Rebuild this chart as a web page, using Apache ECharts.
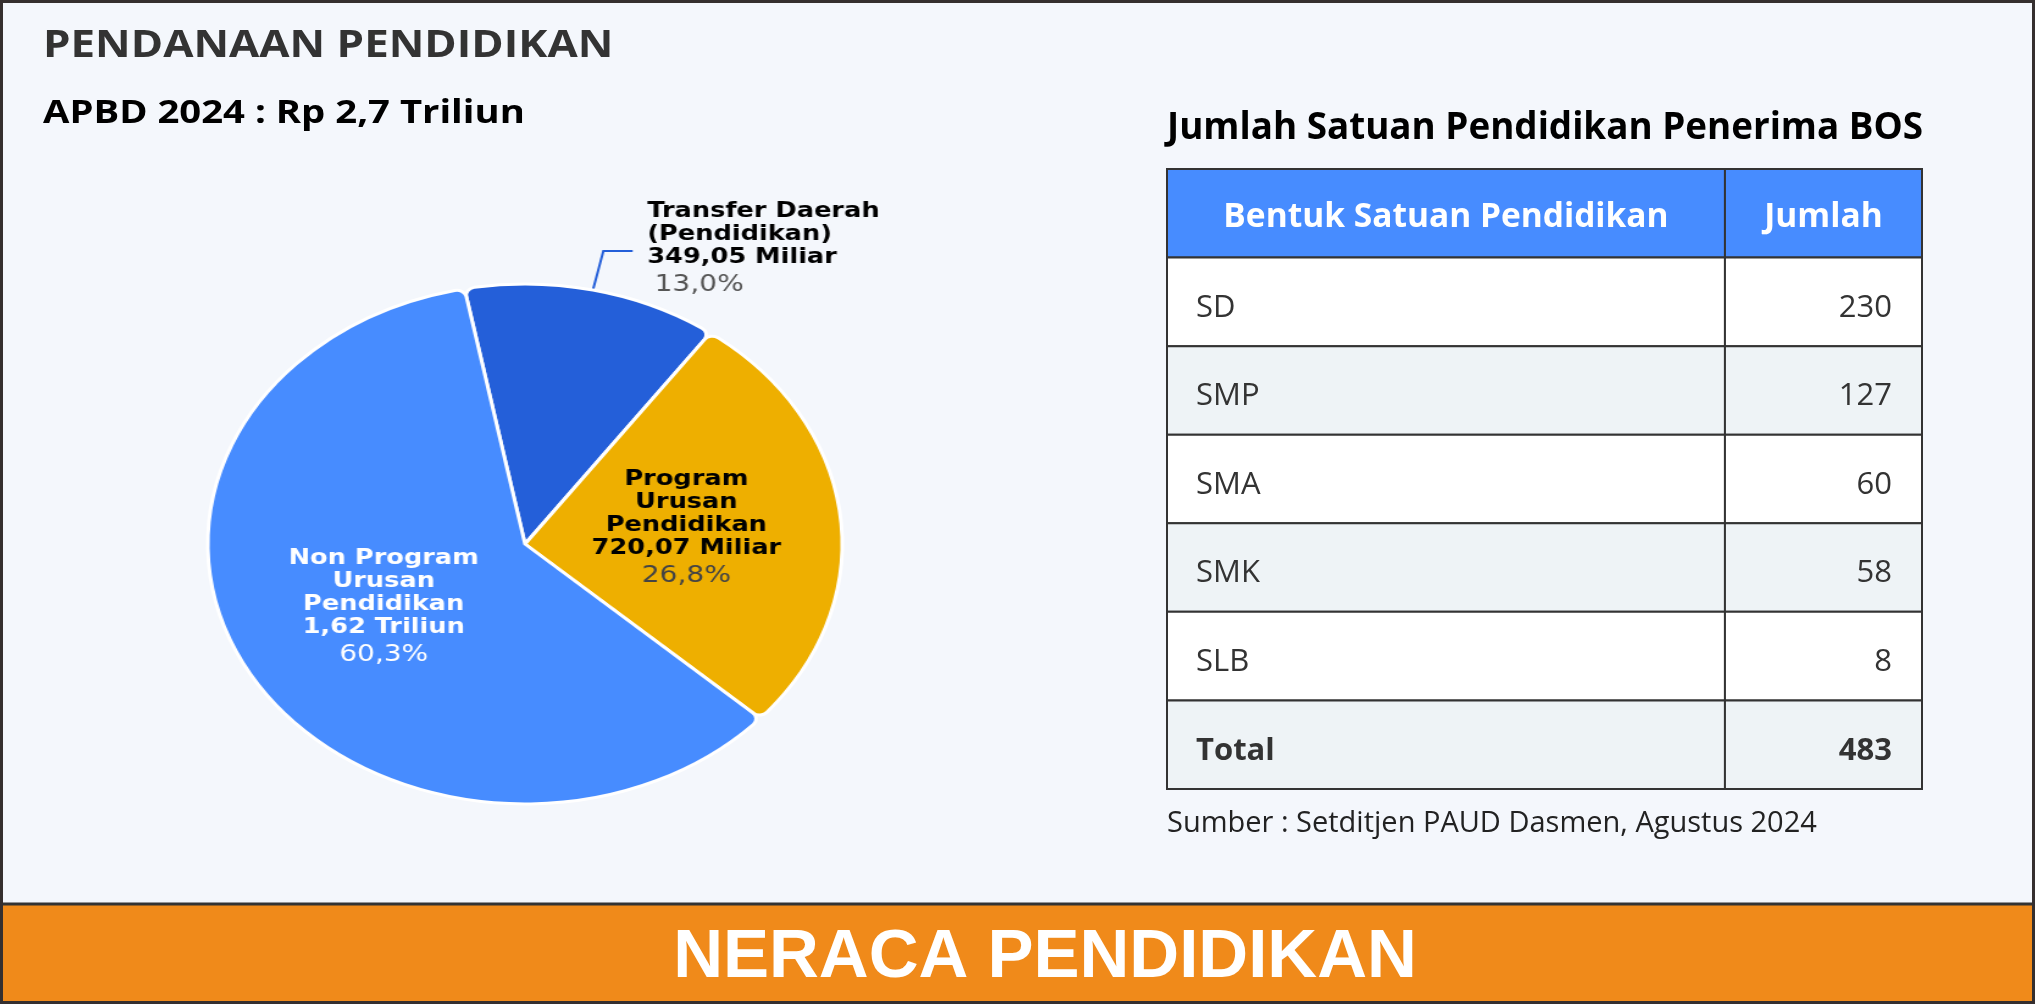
<!DOCTYPE html>
<html><head><meta charset="utf-8">
<script src="https://cdn.jsdelivr.net/npm/echarts@6/dist/echarts.min.js"></script>
<style>
html,body{margin:0;padding:0;background:#f4f7fc;overflow:hidden}
#main{position:absolute;left:0;top:0;width:2035px;height:1004px}
#pie{position:absolute;left:200px;top:150px;width:650px;height:700px;transform-origin:325px 394px;transform:scaleX(1.22)}
</style></head><body>
<div id="main"></div><div id="pie"></div>
<script>
// ---- data ----
const titleText = 'PENDANAAN PENDIDIKAN';
const subtitleText = 'APBD 2024 : Rp 2,7 Triliun';
const pieNames = ['Transfer Daerah (Pendidikan)', 'Program Urusan Pendidikan', 'Non Program Urusan Pendidikan'];
const pieLabelLines = [['Transfer Daerah', '(Pendidikan)'], ['Program', 'Urusan', 'Pendidikan'], ['Non Program', 'Urusan', 'Pendidikan']];
const pieValues = [349.05, 720.07, 1620];
const pieValueLabels = ['349,05 Miliar', '720,07 Miliar', '1,62 Triliun'];
const piePercentLabels = ['13,0%', '26,8%', '60,3%'];
const tableTitle = 'Jumlah Satuan Pendidikan Penerima BOS';
const tableHeader = ['Bentuk Satuan Pendidikan', 'Jumlah'];
const schoolTypes = ['SD', 'SMP', 'SMA', 'SMK', 'SLB'];
const schoolCounts = [230, 127, 60, 58, 8];
const totalLabel = 'Total';
const totalCount = 483;
const sourceText = 'Sumber : Setditjen PAUD Dasmen, Agustus 2024';
const bannerText = 'NERACA PENDIDIKAN';

// ---- styles ----
const pieColors = ['#245fd9', '#eeaf00', '#478cff'];
const COL1 = 0.739;
const rowKeys = ['header'].concat(schoolTypes, [totalLabel]);
const rowLabels = [tableHeader[0]].concat(schoolTypes, [totalLabel]);
const rowValues = [tableHeader[1]].concat(schoolCounts.map(String), [String(totalCount)]);

function renderItem(params, api) {
  const i = api.value(1);
  const c = api.coord([0, i]);
  const h = api.size([0, 1])[1];
  const w = api.size([1, 0])[0];
  const x0 = c[0], yTop = c[1] - h / 2, xs = x0 + w * COL1, x1 = x0 + w;
  const isHeader = i === 0, isTotal = i === rowKeys.length - 1;
  const fill = isHeader ? '#478cff' : (i % 2 === 1 ? '#ffffff' : '#eef3f6');
  const border = {stroke: '#333', lineWidth: 2};
  const children = [
    {type: 'rect', shape: {x: x0, y: yTop, width: xs - x0, height: h}, style: Object.assign({fill: fill}, border)},
    {type: 'rect', shape: {x: xs, y: yTop, width: x1 - xs, height: h}, style: Object.assign({fill: fill}, border)}
  ];
  if (isHeader) {
    children.push({type: 'text', style: {text: rowLabels[i], x: (x0 + xs) / 2, y: c[1] + 4, fill: '#ffffff', fontFamily: 'Open Sans', fontWeight: 'bold', fontSize: 33.5, align: 'center', verticalAlign: 'middle'}});
    children.push({type: 'text', style: {text: rowValues[i], x: (xs + x1) / 2, y: c[1] + 4, fill: '#ffffff', fontFamily: 'Open Sans', fontWeight: 'bold', fontSize: 33.5, align: 'center', verticalAlign: 'middle'}});
  } else {
    const fw = isTotal ? 'bold' : 'normal';
    children.push({type: 'text', style: {text: rowLabels[i], x: x0 + 29, y: c[1] + 6, fill: '#333', fontFamily: 'Open Sans', fontWeight: fw, fontSize: 31, align: 'left', verticalAlign: 'middle'}});
    children.push({type: 'text', style: {text: rowValues[i], x: x1 - 30, y: c[1] + 6, fill: '#333', fontFamily: 'Open Sans', fontWeight: fw, fontSize: 31, align: 'right', verticalAlign: 'middle'}});
  }
  return {type: 'group', children: children};
}

const main = echarts.init(document.getElementById('main'), null, {renderer: 'canvas'});
main.setOption({
  animation: false,
  backgroundColor: '#f4f7fc',
  grid: {left: 1167, top: 169, width: 755, height: 620},
  xAxis: {type: 'value', min: 0, max: 1, show: false},
  yAxis: {type: 'category', data: rowKeys, inverse: true, show: false},
  series: [{type: 'custom', renderItem: renderItem, data: rowKeys.map((k, i) => [0, i]), silent: true, clip: false}],
  graphic: [
    {type: 'rect', z: 0, shape: {x: 0, y: 905, width: 2035, height: 96}, style: {fill: '#f08a1a'}},
    {type: 'line', z: 1, shape: {x1: 0, y1: 904, x2: 2035, y2: 904}, style: {stroke: '#333', lineWidth: 3}},
    {type: 'rect', z: 1, shape: {x: 1.5, y: 1.5, width: 2032, height: 1001}, style: {fill: 'none', stroke: '#352f2f', lineWidth: 3}},
    {type: 'text', z: 2, x: 1045, y: 958, style: {text: bannerText, fill: '#ffffff', font: 'bold 69px "Liberation Sans", Arial, sans-serif', align: 'center', verticalAlign: 'middle'}},
    {type: 'text', z: 2, x: 43, y: 46, scaleX: 1.185, style: {text: titleText, fill: '#333333', font: 'bold 37px "Open Sans", sans-serif', align: 'left', verticalAlign: 'middle'}},
    {type: 'text', z: 2, x: 43, y: 114, scaleX: 1.16, style: {text: subtitleText, fill: '#000000', font: 'bold 33px "Open Sans", sans-serif', align: 'left', verticalAlign: 'middle'}},
    {type: 'text', z: 2, x: 1167, y: 129, style: {text: tableTitle, fill: '#000000', font: 'bold 36.8px "Open Sans", sans-serif', align: 'left', verticalAlign: 'middle'}},
    {type: 'text', z: 2, x: 1167, y: 824, style: {text: sourceText, fill: '#222222', font: '29px "Open Sans", sans-serif', align: 'left', verticalAlign: 'middle'}}
  ]
});

const pieChart = echarts.init(document.getElementById('pie'), null, {renderer: 'canvas'});
function makeLabel(i) {
  const outside = i === 0;
  const dark = i === 1;
  const bold = pieLabelLines[i].concat([pieValueLabels[i]]);
  const txt = bold.map(s => '{b|' + s + '}').join('\n') + '\n{p|' + piePercentLabels[i] + '}';
  const bColor = i === 2 ? '#ffffff' : '#000000';
  const pColor = i === 2 ? '#ffffff' : (dark ? '#444444' : '#555555');
  return {
    show: true,
    position: outside ? 'outside' : 'inside',
    distanceToLabelLine: 12,
    align: outside ? 'left' : 'center',
    formatter: txt,
    rich: {
      b: {fontFamily: 'DejaVu Sans', fontWeight: 'bold', fontSize: 21, lineHeight: 23, color: bColor, align: outside ? 'left' : 'center'},
      p: {fontFamily: 'DejaVu Sans', fontWeight: 'normal', fontSize: 23, lineHeight: 32, color: pColor, padding: outside ? [0, 0, 0, 6] : 0, align: outside ? 'left' : 'center'}
    }
  };
}
pieChart.setOption({
  animation: false,
  series: [{
    type: 'pie',
    center: [325, 394],
    radius: 260,
    startAngle: 101,
    clockwise: true,
    avoidLabelOverlap: false,
    silent: true,
    itemStyle: {borderColor: '#ffffff', borderWidth: 3, borderRadius: [0, 8]},
    labelLine: {show: false},
    data: pieValues.map((v, i) => ({
      value: v,
      name: pieNames[i],
      itemStyle: {color: pieColors[i]},
      label: makeLabel(i),
      labelLine: i === 0 ? {show: true, length: 40, length2: 24, smooth: false, lineStyle: {color: pieColors[0], width: 2}} : {show: false}
    }))
  }]
});
</script>
</body></html>
